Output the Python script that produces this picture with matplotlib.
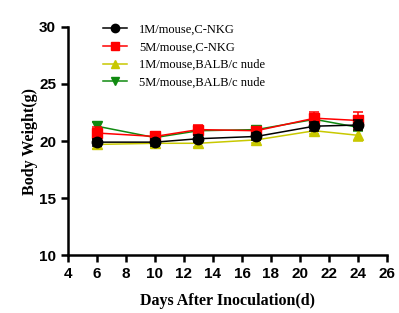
import matplotlib
matplotlib.use('agg')
import matplotlib.pyplot as plt
from matplotlib.lines import Line2D

days = [6, 10, 13, 17, 21, 24]

labels = ['1M/mouse,C-NKG', '5M/mouse,C-NKG',
          '1M/mouse,BALB/c nude', '5M/mouse,BALB/c nude']

nkg_1m = [19.9, 19.9, 20.2, 20.4, 21.3, 21.4]
nkg_1m_err = [0.3, 0.3, 0.3, 0.3, 0.4, 0.4]
nkg_5m = [20.7, 20.4, 21.0, 20.9, 22.0, 21.8]
nkg_5m_err = [0.5, 0.4, 0.4, 0.3, 0.5, 0.7]
nude_1m = [19.7, 19.8, 19.8, 20.1, 20.9, 20.5]
nude_1m_err = [0.4, 0.3, 0.3, 0.3, 0.3, 0.5]
nude_5m = [21.3, 20.3, 20.9, 21.0, 21.9, 21.2]
nude_5m_err = [0.4, 0.3, 0.3, 0.3, 0.4, 0.3]

colors = ['black', '#ff0000', '#c8c800', '#108a10']
markers = ['o', 's', '^', 'v']
series = [(nkg_1m, nkg_1m_err), (nkg_5m, nkg_5m_err),
          (nude_1m, nude_1m_err), (nude_5m, nude_5m_err)]

fig = plt.figure(figsize=(3.99, 3.13), dpi=100)
ax = fig.add_axes([0.170, 0.185, 0.80, 0.729])

# draw green first so black ends up on top
for i in [3, 2, 1, 0]:
    y, e = series[i]
    ax.errorbar(days, y, yerr=e, color=colors[i], marker=markers[i],
                markersize=7.5, linewidth=1.1, capsize=3.5,
                elinewidth=1.1, capthick=1.1, zorder=3 + (3 - i))

handles = [Line2D([], [], color=colors[i], marker=markers[i],
                  markersize=6, linewidth=1.1) for i in range(4)]

ax.set_xlim(4, 26)
ax.set_ylim(10, 30)
ax.set_xticks(range(4, 27, 2))
ax.set_yticks(range(10, 31, 5))

for s in ['top', 'right']:
    ax.spines[s].set_visible(False)
for s in ['left', 'bottom']:
    ax.spines[s].set_linewidth(1.8)
ax.tick_params(width=1.8, length=5, direction='out')

for t in ax.get_xticklabels() + ax.get_yticklabels():
    t.set_fontfamily('Liberation Sans')
    t.set_fontweight('bold')
    t.set_fontsize(11)

ax.set_xlabel('Days After Inoculation(d)', fontfamily='Liberation Serif',
              fontweight='bold', fontsize=11.5, labelpad=9)
ax.set_ylabel('Body Weight(g)', fontfamily='Liberation Serif',
              fontweight='bold', fontsize=11.5, labelpad=1)

leg = ax.legend(handles=handles, labels=labels, loc='upper left',
                bbox_to_anchor=(0.075, 1.063), frameon=False,
                prop={'family': 'Liberation Serif', 'size': 9},
                handlelength=1.9, labelspacing=0.45, handletextpad=1.0)

fig.savefig('out.png', dpi=100)
